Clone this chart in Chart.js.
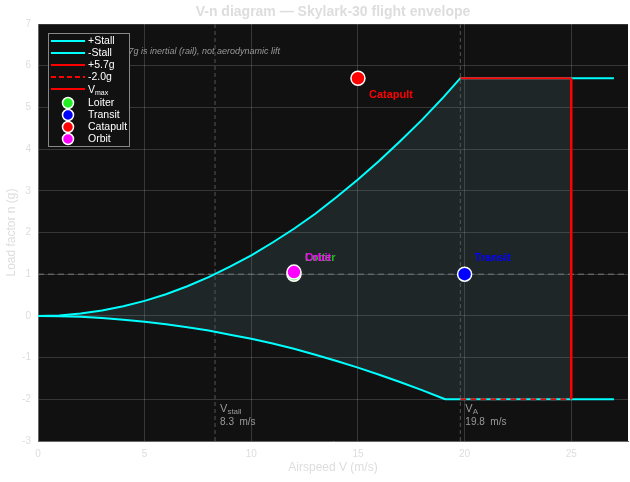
<!DOCTYPE html>
<html>
<head>
<meta charset="utf-8">
<script src="https://cdn.jsdelivr.net/npm/chart.js@4/dist/chart.umd.min.js"></script>
<style>
  html, body { margin: 0; padding: 0; background: #ffffff; }
  #c { display: block; }
</style>
</head>
<body>
<canvas id="c" width="630" height="482"></canvas>
<script>
// Positive stall boundary and the flat +5.7g limit out to 27 m/s
const speedPos = [0, 1, 2, 3, 4, 5, 6, 7, 8, 9, 10, 11, 12, 13, 14, 15, 16, 17, 18, 19, 19.8, 27];
const loadPos  = [0, 0.01, 0.06, 0.13, 0.23, 0.36, 0.52, 0.71, 0.93, 1.18, 1.45, 1.76, 2.09, 2.45, 2.85, 3.27, 3.72, 4.20, 4.70, 5.24, 5.70, 5.70];

// Negative stall boundary and the flat -2.0g limit
const speedNeg = [0, 1, 2, 3, 4, 5, 6, 7, 8, 9, 10, 11, 12, 13, 14, 15, 16, 17, 18, 19, 19.1, 27];
const loadNeg  = [0, -0.01, -0.02, -0.05, -0.09, -0.14, -0.20, -0.27, -0.35, -0.45, -0.55, -0.66, -0.79, -0.93, -1.08, -1.24, -1.41, -1.59, -1.78, -1.98, -2.00, -2.00];

// Reference speeds (m/s) and load limits (g)
const vStall = 8.3;
const vManeuver = 19.8;
const vMax = 25;
const nPosLimit = 5.7;
const nNegLimit = -2.0;

// Mission operating points
const missionNames = ['Loiter', 'Transit', 'Catapult', 'Orbit'];
const missionSpeed = [12, 20, 15, 12];
const missionLoad  = [1.0, 1.0, 5.7, 1.05];
const missionColors = ['#22ee22', '#0000ff', '#ff0000', '#ff00ff'];

// Axis ticks
const speedTicks = [0, 5, 10, 15, 20, 25];
const loadTicks  = [-3, -2, -1, 0, 1, 2, 3, 4, 5, 6, 7];
const speedRange = [0, 27.66];
const loadRange  = [-3, 7];

const pts = (xs, ys) => xs.map((x, i) => ({ x, y: ys[i] }));

const posCurve = pts(speedPos, loadPos);
const negCurve = pts(speedNeg, loadNeg);

// Envelope outline up to Vmax, used only for the shaded area
const envUpper = posCurve.filter(p => p.x < vMax).concat({ x: vMax, y: nPosLimit });
const envLower = negCurve.filter(p => p.x < vMax).concat({ x: vMax, y: nNegLimit });

const FONT = '"Liberation Sans", Arial, sans-serif';

const lineDs = (label, data, color, width, extra) => Object.assign({
  label, data, borderColor: color, backgroundColor: color, borderWidth: width,
  pointRadius: 0, pointHoverRadius: 0, tension: 0, fill: false
}, extra || {});

const datasets = [
  // mission markers (on top)
  ...missionNames.map((name, i) => ({
    type: 'scatter', label: name,
    data: [{ x: missionSpeed[i], y: missionLoad[i] }],
    backgroundColor: missionColors[i], borderColor: '#ffffff', borderWidth: 1.5,
    pointRadius: 7, pointHoverRadius: 7, order: 1 + (3 - i) * 0.1
  })),
  lineDs('Vmax', [{ x: vMax, y: nNegLimit }, { x: vMax, y: nPosLimit }], '#ff0000', 2.5, { order: 2 }),
  lineDs('+5.7g', [{ x: vManeuver, y: nPosLimit }, { x: vMax, y: nPosLimit }], '#ff0000', 2, { order: 2.1 }),
  lineDs('-2.0g', [{ x: vManeuver, y: nNegLimit }, { x: vMax, y: nNegLimit }], '#dd1111', 2, { order: 2.2, borderDash: [6, 4] }),
  lineDs('+Stall', posCurve, '#00ffff', 2, { order: 3 }),
  lineDs('-Stall', negCurve, '#00ffff', 2, { order: 3.1 }),
  // reference guides
  lineDs('n1', [{ x: speedRange[0], y: 1 }, { x: speedRange[1], y: 1 }], '#777777', 1, { order: 4, borderDash: [6, 4] }),
  lineDs('vs', [{ x: vStall, y: loadRange[0] }, { x: vStall, y: loadRange[1] }], '#555555', 1, { order: 4, borderDash: [4, 3] }),
  lineDs('va', [{ x: vManeuver, y: loadRange[0] }, { x: vManeuver, y: loadRange[1] }], '#555555', 1, { order: 4, borderDash: [4, 3] }),
  // shaded envelope
  lineDs('envUpper', envUpper, 'rgba(0,0,0,0)', 0, { order: 5, fill: '+1', backgroundColor: 'rgba(100,140,150,0.17)' }),
  lineDs('envLower', envLower, 'rgba(0,0,0,0)', 0, { order: 5.1 })
];

// Offsets (px) of each mission label from its marker
const labelOffset = { Loiter: [11, -16], Transit: [10, -16], Catapult: [11, 17], Orbit: [11, -14] };

const legendItems = [
  { kind: 'line', color: '#00ffff', text: '+Stall' },
  { kind: 'line', color: '#00ffff', text: '-Stall' },
  { kind: 'line', color: '#ff0000', text: '+5.7g' },
  { kind: 'dash', color: '#ff0000', text: '-2.0g' },
  { kind: 'line', color: '#ff0000', text: 'V', sub: 'max' },
  ...missionNames.map((n, i) => ({ kind: 'dot', color: missionColors[i], text: n }))
];

const drawSubLabel = (ctx, x, yBase, main, sub, mainSize, subSize) => {
  ctx.font = `${mainSize}px ${FONT}`;
  ctx.fillText(main, x, yBase);
  const w = ctx.measureText(main).width;
  ctx.font = `${subSize}px ${FONT}`;
  ctx.fillText(sub, x + w, yBase + 2);
};

const overlay = {
  id: 'overlay',
  beforeDraw(chart) {
    const { ctx, chartArea: a } = chart;
    ctx.save();
    ctx.fillStyle = '#111111';
    ctx.fillRect(a.left, a.top, a.right - a.left, a.bottom - a.top);
    ctx.restore();
  },
  afterDatasetsDraw(chart) {
    const { ctx, scales: { x, y } } = chart;
    ctx.save();
    ctx.textBaseline = 'alphabetic';
    ctx.textAlign = 'left';
    // reference speed annotations
    ctx.fillStyle = '#999999';
    const yb = y.getPixelForValue(-2.3);
    [[vStall, 'stall'], [vManeuver, 'A']].forEach(([v, sub]) => {
      const px = x.getPixelForValue(v) + 5;
      drawSubLabel(ctx, px, yb, 'V', sub, 11, 8);
      ctx.font = `10px ${FONT}`;
      ctx.fillText(`${v.toFixed(1)}  m/s`, px, yb + 13);
    });
    // catapult note
    ctx.font = `italic 9px ${FONT}`;
    ctx.fillStyle = '#999999';
    ctx.textAlign = 'right';
    ctx.textBaseline = 'middle';
    ctx.fillText('Catapult 5.7g is inertial (rail), not aerodynamic lift', 280, y.getPixelForValue(6.33));
    // mission labels
    ctx.textAlign = 'left';
    ctx.font = `bold 11px ${FONT}`;
    missionNames.forEach((n, i) => {
      const [dx, dy] = labelOffset[n];
      ctx.fillStyle = missionColors[i] === '#22ee22' ? '#22bb22' : missionColors[i];
      ctx.fillText(n, x.getPixelForValue(missionSpeed[i]) + dx, y.getPixelForValue(missionLoad[i]) + dy);
    });
    ctx.restore();
  },
  afterDraw(chart) {
    const { ctx, chartArea: a } = chart;
    ctx.save();
    // title
    ctx.font = `bold 14px ${FONT}`;
    ctx.fillStyle = '#dddddd';
    ctx.textAlign = 'center';
    ctx.textBaseline = 'middle';
    ctx.fillText('V-n diagram \u2014 Skylark-30 flight envelope', (a.left + a.right) / 2, 12);
    // legend
    const bx = 48, by = 33, bw = 81, bh = 113;
    ctx.fillStyle = '#111111';
    ctx.fillRect(bx, by, bw, bh);
    ctx.strokeStyle = '#888888';
    ctx.lineWidth = 1;
    ctx.strokeRect(bx + 0.5, by + 0.5, bw, bh);
    const rowY = [41, 53, 65, 77, 89, 103, 115, 127, 139];
    legendItems.forEach((it, i) => {
      const ry = rowY[i];
      if (it.kind === 'dot') {
        ctx.beginPath();
        ctx.arc(68, ry, 5.5, 0, Math.PI * 2);
        ctx.fillStyle = it.color;
        ctx.fill();
        ctx.strokeStyle = '#ffffff';
        ctx.lineWidth = 1.5;
        ctx.stroke();
      } else {
        ctx.beginPath();
        ctx.setLineDash(it.kind === 'dash' ? [5, 3] : []);
        ctx.moveTo(51, ry);
        ctx.lineTo(85, ry);
        ctx.strokeStyle = it.color;
        ctx.lineWidth = 2;
        ctx.stroke();
        ctx.setLineDash([]);
      }
      ctx.fillStyle = '#ffffff';
      ctx.textAlign = 'left';
      ctx.textBaseline = 'middle';
      if (it.sub) {
        ctx.textBaseline = 'alphabetic';
        drawSubLabel(ctx, 88, ry + 4, it.text, it.sub, 10.5, 7);
      } else {
        ctx.font = `10.5px ${FONT}`;
        ctx.fillText(it.text, 88, ry);
      }
    });
    ctx.restore();
  }
};

new Chart(document.getElementById('c'), {
  type: 'line',
  data: { datasets },
  plugins: [overlay],
  options: {
    responsive: false,
    animation: false,
    layout: { autoPadding: false, padding: { top: 24, right: 2, left: 0, bottom: 0 } },
    plugins: { legend: { display: false }, tooltip: { enabled: false }, title: { display: false } },
    scales: {
      x: {
        type: 'linear', min: speedRange[0], max: speedRange[1],
        afterBuildTicks: s => { s.ticks = speedTicks.map(v => ({ value: v })); },
        afterFit: s => { s.height = 41; },
        grid: { color: 'rgba(255,255,255,0.16)', drawTicks: false },
        border: { color: '#666666' },
        ticks: { color: '#dddddd', font: { size: 10, family: FONT }, padding: 7 },
        title: { display: true, text: 'Airspeed V (m/s)', color: '#dddddd', font: { size: 12, family: FONT }, padding: { top: 0, bottom: 7 } }
      },
      y: {
        type: 'linear', min: loadRange[0], max: loadRange[1],
        afterBuildTicks: s => { s.ticks = loadTicks.map(v => ({ value: v })); },
        afterFit: s => { s.width = 38; },
        grid: { color: 'rgba(255,255,255,0.16)', drawTicks: false },
        border: { color: '#666666' },
        ticks: { color: '#dddddd', font: { size: 10, family: FONT }, padding: 7 },
        title: { display: true, text: 'Load factor n (g)', color: '#dddddd', font: { size: 12, family: FONT }, padding: { top: 4, bottom: 0 } }
      }
    }
  }
});
</script>
</body>
</html>
